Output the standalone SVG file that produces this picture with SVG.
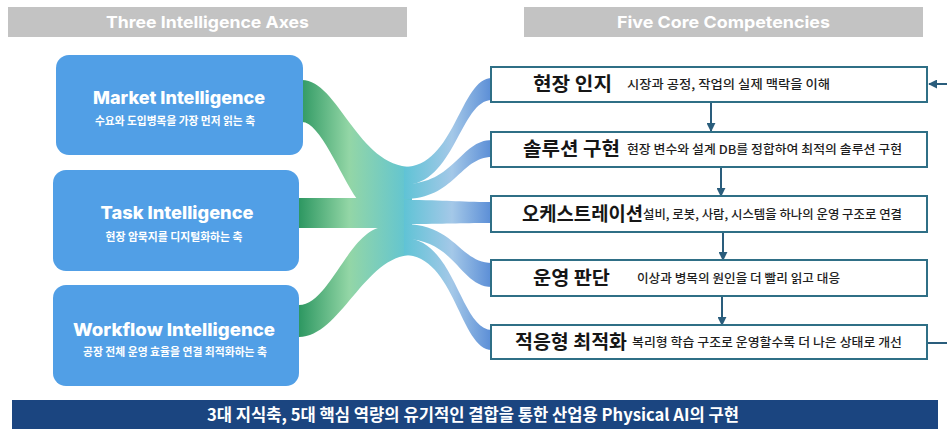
<svg xmlns="http://www.w3.org/2000/svg" width="947" height="429" viewBox="0 0 947 429">
<defs>
<style>
.hdr{fill:#c3c3c3}
.hdrt{fill:#ffffff;font-family:Inter,"Liberation Sans",sans-serif;font-weight:700;font-size:16.5px;text-anchor:middle}
.axis{fill:#519fe6}
.axt{fill:#ffffff;font-family:Inter,"Liberation Sans",sans-serif;font-weight:800;font-size:17.5px;text-anchor:middle}
.axs{fill:#ffffff;font-family:"Noto Sans CJK KR",sans-serif;font-weight:700;font-size:11px;text-anchor:middle}
.comp{fill:#ffffff;stroke:#2f6f86;stroke-width:2}
.ct{fill:#161616;font-family:"Noto Sans CJK KR",sans-serif;font-weight:700;font-size:19px}
.cd{fill:#1e1e1e;font-family:"Noto Sans CJK KR",sans-serif;font-weight:500;font-size:12px}
.arr{stroke:#2a5d7c;stroke-width:2;fill:none}
.lf{fill:url(#gl)}
.rf{fill:url(#gr)}
</style>
<linearGradient id="gl" gradientUnits="userSpaceOnUse" x1="298" y1="0" x2="412" y2="0">
<stop offset="0" stop-color="#2b9660"/>
<stop offset="0.45" stop-color="#93d6a6"/>
<stop offset="1" stop-color="#5ec3d5"/>
</linearGradient>
<linearGradient id="gr" gradientUnits="userSpaceOnUse" x1="403" y1="0" x2="492" y2="0">
<stop offset="0" stop-color="#5ec3d5"/>
<stop offset="0.55" stop-color="#a4c8e8"/>
<stop offset="1" stop-color="#5a8dd6"/>
</linearGradient>
<marker id="ah" viewBox="0 0 10 10" refX="9" refY="5" markerWidth="4.5" markerHeight="4.5" orient="auto" markerUnits="strokeWidth">
<path d="M0,0 L10,5 L0,10 Z" fill="#2a5d7c"/>
</marker>
</defs>

<g id="header-left">
<rect class="hdr" x="8" y="7" width="399" height="30"/>
<text class="hdrt" x="207.5" y="28" textLength="203" lengthAdjust="spacingAndGlyphs">Three Intelligence Axes</text>
</g>
<g id="header-right">
<rect class="hdr" x="524" y="7" width="399" height="30"/>
<text class="hdrt" x="723.5" y="28" textLength="213" lengthAdjust="spacingAndGlyphs">Five Core Competencies</text>
</g>

<g id="connectors">
<g id="flows-left">
<path class="lf" d="M302,80 C338,80 358,167 412,167 L412,199 L357,199 C340,175 320,122 302,122 Z"/>
<path class="lf" d="M299,198 L412,198 L412,228 L299,228 Z"/>
<path class="lf" d="M299,305 C330,305 350,227 385,227 L412,227 L412,255 C365,255 340,337 299,337 Z"/>
</g>
<g id="flows-right">
<path class="rf" d="M404,167 C455,167 460,78 492,78 L492,100 C460,100 455,185 404,185 Z"/>
<path class="rf" d="M404,184 C455,184 460,140 492,140 L492,157 C460,157 455,199 404,199 Z"/>
<path class="rf" d="M404,200 C450,200 455,202 492,202 L492,223 C455,223 450,224 404,224 Z"/>
<path class="rf" d="M404,224 C455,224 460,263 492,263 L492,287 C460,287 455,239 404,239 Z"/>
<path class="rf" d="M404,238 C455,238 460,330 492,330 L492,350 C460,350 455,255 404,255 Z"/>
</g>
<g id="arrows">
<line class="arr" x1="711" y1="102" x2="711" y2="131" marker-end="url(#ah)"/>
<line class="arr" x1="721" y1="167" x2="721" y2="196" marker-end="url(#ah)"/>
<line class="arr" x1="723" y1="232" x2="723" y2="260" marker-end="url(#ah)"/>
<line class="arr" x1="722" y1="296" x2="722" y2="325" marker-end="url(#ah)"/>
<line class="arr" x1="928" y1="343" x2="947" y2="343"/>
<line class="arr" x1="947" y1="84" x2="929" y2="84" marker-end="url(#ah)"/>
</g>
</g>

<g id="market">
<rect class="axis" x="56" y="55" width="247" height="100" rx="13"/>
<text class="axt" x="179" y="104" textLength="172" lengthAdjust="spacingAndGlyphs">Market Intelligence</text>
<text class="axs" x="175" y="125" textLength="160" lengthAdjust="spacingAndGlyphs">수요와 도입병목을 가장 먼저 읽는 축</text>
</g>
<g id="task">
<rect class="axis" x="53" y="170" width="246" height="101" rx="13"/>
<text class="axt" x="177" y="219" textLength="153" lengthAdjust="spacingAndGlyphs">Task Intelligence</text>
<text class="axs" x="174" y="241" textLength="137" lengthAdjust="spacingAndGlyphs">현장 암묵지를 디지털화하는 축</text>
</g>
<g id="workflow">
<rect class="axis" x="53" y="285" width="246" height="101" rx="13"/>
<text class="axt" x="174" y="336" textLength="202" lengthAdjust="spacingAndGlyphs">Workflow Intelligence</text>
<text class="axs" x="175" y="356" textLength="184" lengthAdjust="spacingAndGlyphs">공장 전체 운영 효율을 연결 최적화하는 축</text>
</g>

<g id="comp1">
<rect class="comp" x="491" y="67" width="436" height="35"/>
<text class="ct" x="533" y="91" textLength="79" lengthAdjust="spacingAndGlyphs">현장 인지</text>
<text class="cd" x="627" y="89" textLength="203" lengthAdjust="spacingAndGlyphs">시장과 공정, 작업의 실제 맥락을 이해</text>
</g>
<g id="comp2">
<rect class="comp" x="491" y="132" width="436" height="35"/>
<text class="ct" x="523" y="156" textLength="97" lengthAdjust="spacingAndGlyphs">솔루션 구현</text>
<text class="cd" x="627" y="154" textLength="275" lengthAdjust="spacingAndGlyphs">현장 변수와 설계 DB를 정합하여 최적의 솔루션 구현</text>
</g>
<g id="comp3">
<rect class="comp" x="491" y="196" width="436" height="36"/>
<text class="ct" x="522" y="221" textLength="121" lengthAdjust="spacingAndGlyphs">오케스트레이션</text>
<text class="cd" x="643" y="219" textLength="259" lengthAdjust="spacingAndGlyphs">설비, 로봇, 사람, 시스템을 하나의 운영 구조로 연결</text>
</g>
<g id="comp4">
<rect class="comp" x="491" y="260" width="436" height="36"/>
<text class="ct" x="533" y="285" textLength="77" lengthAdjust="spacingAndGlyphs">운영 판단</text>
<text class="cd" x="637" y="283" textLength="203" lengthAdjust="spacingAndGlyphs">이상과 병목의 원인을 더 빨리 읽고 대응</text>
</g>
<g id="comp5">
<rect class="comp" x="491" y="325" width="436" height="34"/>
<text class="ct" x="515" y="349" textLength="112" lengthAdjust="spacingAndGlyphs">적응형 최적화</text>
<text class="cd" x="632" y="347" textLength="270" lengthAdjust="spacingAndGlyphs">복리형 학습 구조로 운영할수록 더 나은 상태로 개선</text>
</g>

<g id="banner">
<rect x="12" y="400" width="926" height="29" fill="#1b4580"/>
<text x="473" y="421" fill="#ffffff" font-family="'Noto Sans CJK KR',sans-serif" font-weight="700" font-size="16.5" text-anchor="middle" textLength="532" lengthAdjust="spacingAndGlyphs">3대 지식축, 5대 핵심 역량의 유기적인 결합을 통한 산업용 Physical AI의 구현</text>
</g>
</svg>
